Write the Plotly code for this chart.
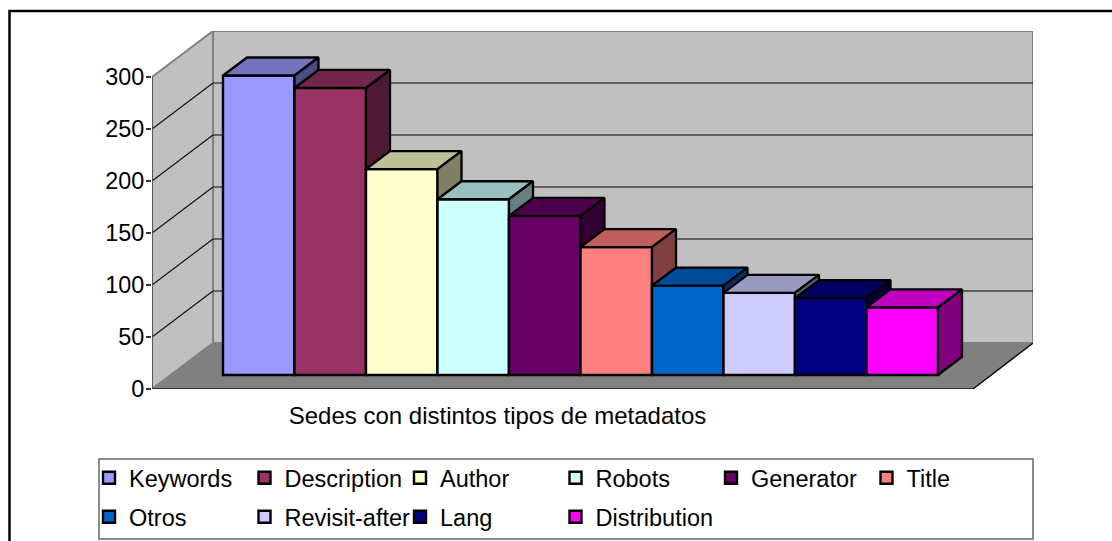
import plotly.graph_objects as go

categories = ["Keywords", "Description", "Author", "Robots", "Generator", "Title",
              "Otros", "Revisit-after", "Lang", "Distribution"]
values = [288, 276, 198, 169, 153, 123, 86, 79, 74, 65]
colors = ["#9999FF", "#993366", "#FFFFCC", "#CCFFFF", "#660066", "#FF8080",
          "#0066CC", "#CCCCFF", "#000080", "#FF00FF"]
tick_values = [0, 50, 100, 150, 200, 250, 300]
axis_label = "Sedes con distintos tipos de metadatos"

W, H = 1112, 541
L, R, T, B = 152, 1033, 31, 389      # plot box in pixels
PX_X = 71.5                          # pixels per category
PX_Y = 1.04                          # pixels per value unit
X0 = -(223 - L) / PX_X               # left end of the x axis
X1 = X0 + (R - L) / PX_X
Y1 = (B - T) / PX_Y
DX = 61 / PX_X                       # wall depth
DY = 46 / PX_Y
FRONT_END = X0 + (973 - L) / PX_X
BAR_BASE = 14 / PX_Y                 # front plane of the bars above the floor edge
BDX = 24 / PX_X                      # bar depth
BDY = 18 / PX_Y
FONT = "Liberation Sans, Arial, sans-serif"
FS = 23.4


def shade(hex_color, k):
    r, g, b = (int(hex_color[i:i + 2], 16) for i in (1, 3, 5))
    return f"rgb({round(r * k)},{round(g * k)},{round(b * k)})"


def poly(xs, ys, fill, line="#000000", width=2.3, z=0):
    return go.Scatter(x=xs + xs[:1], y=ys + ys[:1], mode="lines", fill="toself", fillcolor=fill,
                      line=dict(color=line, width=width), hoverinfo="skip", showlegend=False,
                      cliponaxis=False, zorder=z)


def seg(xs, ys, color, width=1.2, z=0):
    return go.Scatter(x=xs, y=ys, mode="lines", line=dict(color=color, width=width),
                      hoverinfo="skip", showlegend=False, cliponaxis=False, zorder=z)


fig = go.Figure()

# walls and floor
fig.add_trace(poly([X0, X0, X0 + DX, X0 + DX], [0, 300, 300 + DY, DY], "#C0C0C0", "#808080", 2))
fig.add_trace(poly([X0 + DX, X1, X1, X0 + DX], [300 + DY, 300 + DY, DY, DY], "#C0C0C0", "#808080", 2))
fig.add_trace(poly([X0, FRONT_END, X1, X0 + DX], [0, 0, DY, DY], "#808080", "#808080", 1))

# gridlines
for v in tick_values[1:-1]:
    fig.add_trace(seg([X0, X0 + DX], [v, v + DY], "#111111", 1.2))
    fig.add_trace(seg([X0 + DX, X1], [v + DY, v + DY], "#404040", 1.6))
fig.add_trace(seg([X0, FRONT_END, X1], [0, 0, DY], "#111111", 1.4))
fig.add_trace(seg([X0, X0], [-5 / PX_Y, 300], "#555555", 2))
fig.add_trace(seg([FRONT_END, FRONT_END], [-5 / PX_Y, 0], "#808080", 1.5))

# bars: painted left to right, each on its own layer
for i, (name, val, col) in enumerate(zip(categories, values, colors)):
    z = i + 1
    top = BAR_BASE + val
    legend_name = "legend" if i < 6 else "legend2"
    fig.add_trace(poly([i, i + 1, i + 1 + BDX, i + BDX], [top, top, top + BDY, top + BDY],
                       shade(col, 0.75), z=z))
    fig.add_trace(poly([i + 1, i + 1 + BDX, i + 1 + BDX, i + 1],
                       [BAR_BASE, BAR_BASE + BDY, top + BDY, top], shade(col, 0.5), z=z))
    fig.add_trace(go.Bar(x=[i + 0.5], y=[val], base=BAR_BASE, width=1, name=name,
                         marker=dict(color=col, line=dict(color="#000000", width=2.4)),
                         legend=legend_name, zorder=z, hovertemplate=name + ": %{y}<extra></extra>"))

# empty entry so the second legend row is wide enough for its last label
fig.add_trace(go.Bar(x=[None], y=[None], name=" ", legend="legend2", showlegend=True,
                     marker=dict(color="rgba(0,0,0,0)", line=dict(width=0))))


def px(x):
    return (x - L) / (R - L)


def py(y):
    return (B - y) / (B - T)


legend_common = dict(orientation="h", xanchor="left", yanchor="middle", bgcolor="rgba(0,0,0,0)",
                     font=dict(family=FONT, size=23.5, color="#000000"), borderwidth=0,
                     entrywidth=110.5, entrywidthmode="pixels", traceorder="normal")

fig.update_layout(
    width=W, height=H, autosize=False, barmode="overlay", showlegend=True,
    margin=dict(l=L, r=W - R, t=T, b=H - B, pad=0, autoexpand=False),
    paper_bgcolor="#FFFFFF", plot_bgcolor="rgba(0,0,0,0)",
    font=dict(family=FONT, size=FS, color="#000000"),
    xaxis=dict(range=[X0, X1], showgrid=False, zeroline=False, showline=False,
               tickmode="array", tickvals=[(497.5 - 223) / PX_X], ticktext=[axis_label],
               ticks="outside", ticklen=5, tickcolor="rgba(0,0,0,0)",
               tickfont=dict(family=FONT, size=24, color="#000000")),
    yaxis=dict(range=[0, Y1], showgrid=False, zeroline=False, showline=False,
               tickmode="array", tickvals=tick_values, ticktext=[str(v) for v in tick_values],
               ticks="outside", ticklen=5, tickwidth=1.5, tickcolor="#333333",
               ticklabelstandoff=-3,
               tickfont=dict(family=FONT, size=FS, color="#000000")),
    legend=dict(x=px(89), y=py(478), **legend_common),
    legend2=dict(x=px(89), y=py(517), **legend_common),
    shapes=[
        dict(type="rect", xref="paper", yref="paper", x0=px(9.5), x1=px(1130), y0=py(11), y1=py(560),
             line=dict(color="#000000", width=2.5), fillcolor="rgba(0,0,0,0)", layer="below"),
        dict(type="rect", xref="paper", yref="paper", x0=px(99), x1=px(1033), y0=py(459), y1=py(539),
             line=dict(color="#666666", width=1.5), fillcolor="rgba(0,0,0,0)", layer="below"),
    ],
)

fig.write_html("out.html", config={"displayModeBar": False},
               post_script="document.body.style.margin='0';document.body.style.overflow='hidden';")
